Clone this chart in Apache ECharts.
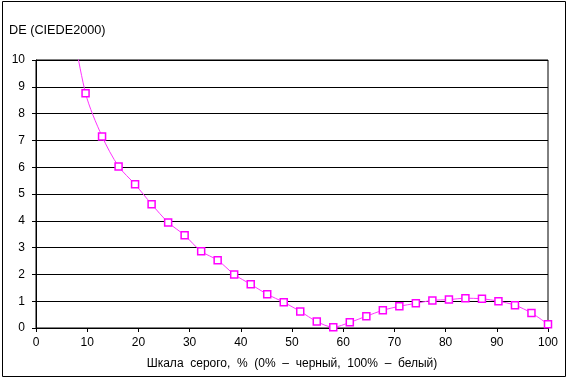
<!DOCTYPE html>
<html>
<head>
<meta charset="utf-8">
<script src="https://cdn.jsdelivr.net/npm/echarts@6/dist/echarts.min.js"></script>
<style>
html,body{margin:0;padding:0;background:#fff;}
#chart{width:568px;height:379px;}
</style>
</head>
<body>
<div id="chart"></div>
<script>
// Gray level, % (steps of 100/31)
const grayLevels = [6.45, 9.68, 12.90, 16.13, 19.35, 22.58, 25.81, 29.03, 32.26, 35.48, 38.71, 41.94, 45.16, 48.39, 51.61, 54.84, 58.06, 61.29, 64.52, 67.74, 70.97, 74.19, 77.42, 80.65, 83.87, 87.10, 90.32, 93.55, 96.77, 100.00];
// DE (CIEDE2000)
const deValues = [12.0, 8.76, 7.15, 6.03, 5.36, 4.62, 3.94, 3.46, 2.86, 2.53, 2.00, 1.63, 1.26, 0.96, 0.62, 0.24, 0.03, 0.21, 0.44, 0.66, 0.81, 0.92, 1.03, 1.06, 1.11, 1.09, 1.00, 0.85, 0.56, 0.14];
const xTicks = [0, 10, 20, 30, 40, 50, 60, 70, 80, 90, 100];
const yTicks = [0, 1, 2, 3, 4, 5, 6, 7, 8, 9, 10];
const yTitle = 'DE (CIEDE2000)';
const xTitle = 'Шкала  серого,  %  (0%  –  черный,  100%  –  белый)';

const FONT = '"Liberation Sans", Arial, sans-serif';
const chart = echarts.init(document.getElementById('chart'), null, {renderer: 'canvas'});
chart.setOption({
  animation: false,
  backgroundColor: '#fff',
  grid: {left: 36, right: 20, top: 60, bottom: 51, show: true, borderColor: '#000', borderWidth: 1, backgroundColor: 'transparent'},
  xAxis: {
    type: 'value', min: xTicks[0], max: xTicks[xTicks.length - 1], interval: 10,
    name: xTitle, nameLocation: 'middle', nameGap: 30,
    nameTextStyle: {fontFamily: FONT, fontSize: 12, color: '#000'},
    axisLine: {show: true, lineStyle: {color: '#000', width: 1}},
    axisTick: {show: true, length: 4, lineStyle: {color: '#000'}},
    axisLabel: {fontFamily: FONT, fontSize: 12, color: '#000', margin: 9},
    splitLine: {show: false}
  },
  yAxis: {
    type: 'value', min: yTicks[0], max: yTicks[yTicks.length - 1], interval: 1,
    axisLine: {show: true, lineStyle: {color: '#000', width: 1}},
    axisTick: {show: true, length: 4, lineStyle: {color: '#000'}},
    axisLabel: {fontFamily: FONT, fontSize: 12, color: '#000', margin: 11},
    splitLine: {show: true, lineStyle: {color: '#000', width: 1}}
  },
  graphic: [
    {type: 'rect', shape: {x: 2.5, y: 1.5, width: 563, height: 375}, style: {fill: 'none', stroke: '#000', lineWidth: 1}, silent: true},
    {type: 'text', left: 9, top: 24, style: {text: yTitle, fontFamily: FONT, fontSize: 12.7, fill: '#000'}}
  ],
  series: [{
    type: 'line',
    data: grayLevels.map((x, i) => [x, deValues[i]]),
    smooth: 0.3,
    clip: true,
    symbol: 'rect',
    symbolSize: 7,
    showAllSymbol: true,
    lineStyle: {color: '#ff33ff', width: 1},
    itemStyle: {color: '#fff', borderColor: '#ff00ff', borderWidth: 1.5}
  }]
});
</script>
</body>
</html>
